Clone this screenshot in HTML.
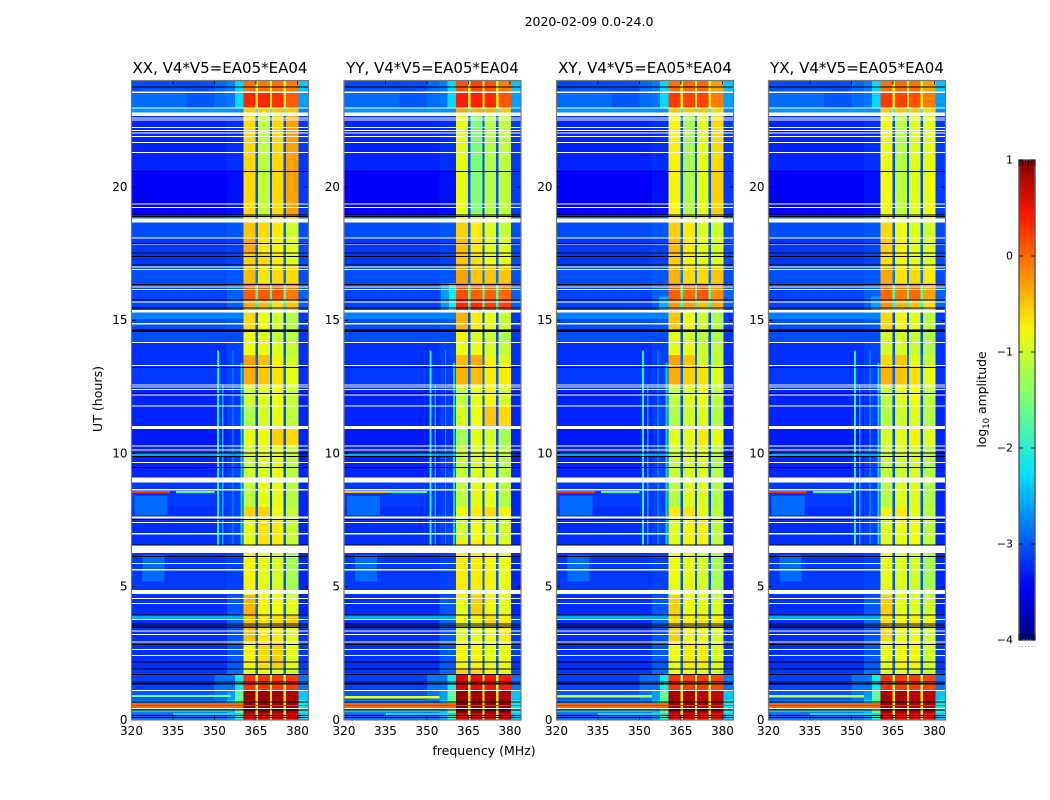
<!DOCTYPE html>
<html>
<head>
<meta charset="utf-8">
<title>2020-02-09 waterfall</title>
<style>
html,body{margin:0;padding:0;background:#fff;width:1050px;height:800px;overflow:hidden}
svg{display:block}
text{font-family:"DejaVu Sans","Liberation Sans",sans-serif;fill:#000}
</style>
</head>
<body>
<svg id="fig" width="1050" height="800" viewBox="0 0 1050 800" xmlns="http://www.w3.org/2000/svg">
<defs><linearGradient id="jetGradient" x1="0" y1="1" x2="0" y2="0"></linearGradient></defs>
<text x="589" y="26" font-size="12.5" text-anchor="middle">2020-02-09 0.0-24.0</text>
<text x="0" y="0" font-size="12.6" text-anchor="middle" transform="translate(102,399) rotate(-90)">UT (hours)</text>
<text x="484" y="755" font-size="12.5" text-anchor="middle">frequency (MHz)</text>
<text x="0" y="0" font-size="12.4" text-anchor="middle" transform="translate(986,399.5) rotate(-90)">log<tspan font-size="8.5" dy="3">10</tspan><tspan dy="-3"> amplitude</tspan></text>
</svg>
<script>
// ---- Chart data (UT hours, MHz, log10 amplitude) ----
const panelTitles = ["XX, V4*V5=EA05*EA04","YY, V4*V5=EA05*EA04","XY, V4*V5=EA05*EA04","YX, V4*V5=EA05*EA04"];
const xTickLabels = [320,335,350,365,380];
const yTickLabels = [0,5,10,15,20];
const colorbarTicks = [1,0,-1,-2,-3,-4];
const freqLimits = [320,384];
const utLimits = [0,24];
const colorLimits = [-4,1];

// Top UT of each time segment (the last entry closes the final one)
const segmentTops = [24,23.55,22.99,22.76,20.63,18.94,18.68,18.08,17.55,17.06,16.39,15.75,15.38,14.63,14.18,13.69,13.31,12.56,11.81,11.03,10.31,9.11,7.99,7.61,6.75,6.26,4.69,3.94,3.45,2.93,1.95,1.69,1.13,0.75,0.26,0];

// Off-band background, wing next to the band, strip right of the band, and the gaps between sub-bands
const backgroundLevel = [-3,-2.95,-2.65,-3.2,-3.4,-2.8,-3,-3.1,-3.1,-3,-3.05,-3.05,-3,-3.05,-3.15,-3.15,-3.1,-3.2,-3.2,-3.25,-3.2,-3.1,-3.15,-3.15,-3.15,-3.1,-3.15,-3.15,-3.15,-3.15,-3.1,-3.05,-2.95,-2.75,-2.85];
const wingLevel = [-2.75,-2.8,-2.65,-3.15,-3.3,-2.7,-2.95,-3.05,-3.05,-2.95,-2.9,-2.9,-2.95,-3.05,-3.05,-3.05,-3.05,-3.1,-3.05,-3.15,-3.05,-3.05,-3.05,-3.05,-3.05,-3.05,-2.95,-2.85,-2.95,-2.95,-2.85,-2.8,-2.6,-2.4,-2.6];
const rightStripLevel = [-2.4,-2.6,-2.7,-3.1,-3.1,-2.8,-3,-3,-3,-3,-2.9,-2.9,-3.1,-3.1,-3.15,-3.15,-3.15,-3.2,-3.2,-3.2,-3.2,-3.2,-3.2,-3.2,-3.2,-3.2,-3.2,-3,-3.1,-3.1,-3,-2.8,-2.4,-2.2,-2.4];
const gapLevel = [-1,-.7,-2,-3,-3,-2.8,-2.9,-2.9,-2.9,-2.8,-1.8,-2.1,-3,-3,-3,-2.9,-2.9,-3,-3,-3,-3,-3,-2.95,-2.95,-2.95,-2.95,-2.9,-2.9,-2.9,-2.9,-2.9,-1.3,-.7,-.7,-1.2];

// Sub-band levels per segment: [sub-band 1, 2, 3, 4]
const bandLevelsXX = [[-.05,-.1,-.05,-.1],[.35,.35,.3,.05],[-.55,-.55,-.5,-.5],[-.6,-1.1,-.6,-.3],[-.6,-1.05,-.6,-.3],[-.6,-1,-.6,-.5],[-.5,-.6,-.7,-1],[-.35,-.7,-.75,-.85],[-.55,-.6,-.7,-.9],[-.45,-.65,-.6,-.6],[.05,.05,.1,-.1],[-.35,-.45,-.6,-.5],[-.6,-.8,-1,-1.15],[-.8,-.9,-1.05,-1.15],[-.8,-.8,-.9,-1.05],[-.3,-.45,-.75,-1],[-.35,-.5,-.65,-.85],[-1,-.9,-.8,-1.05],[-1.2,-.95,-.85,-1.1],[-.85,-.8,-.55,-.6],[-1,-.9,-.85,-1.1],[-1.1,-.85,-.85,-1.15],[-.55,-.55,-.8,-1.05],[-.85,-.65,-.7,-1.05],[-.85,-.65,-.7,-1.05],[-.75,-.85,-.95,-1.25],[-.4,-.75,-.8,-.9],[-.5,-.65,-.6,-.55],[-.45,-.7,-.7,-.9],[-.75,-.6,-.55,-.9],[-.9,-.8,-.9,-1],[.3,.25,.25,.25],[.9,.85,.85,.8],[.9,.9,.85,.85],[.6,.6,.6,.55]];
const bandLevelsYY = [[.1,.2,.15,-.1],[.4,.4,.35,.1],[-.35,-.4,-.4,-.5],[-.85,-1.5,-1.15,-1.1],[-.85,-1.45,-1.15,-1.1],[-.7,-1,-.9,-.9],[-.55,-.7,-.9,-1.05],[-.45,-.7,-.85,-.9],[-.5,-.65,-.8,-.85],[-.3,-.5,-.5,-.5],[.15,.05,.05,0],[.35,.3,.2,.2],[-.4,-.7,-.85,-1.05],[-.75,-.9,-1,-1.2],[-.8,-.8,-.9,-1.05],[-.45,-.35,-.75,-.9],[-.4,-.45,-.7,-.7],[-1.1,-.85,-.75,-.95],[-.95,-.8,-.5,-.6],[-1.25,-.85,-.95,-1.25],[-1.05,-.9,-.9,-1.1],[-1.1,-.85,-.85,-1.15],[-.8,-.7,-.6,-.75],[-1,-.8,-.9,-1],[-.7,-.7,-.75,-.85],[-.7,-.7,-.75,-.85],[-.85,-.55,-.75,-.9],[-.8,-.75,-.6,-.7],[-.9,-.85,-.8,-.7],[-.75,-.75,-.85,-.85],[-.55,-.6,-.75,-.85],[.55,.5,.45,.4],[.9,.85,.85,.8],[.95,.9,.9,.9],[.65,.65,.65,.65]];
const bandLevelsXY = [[-.05,0,0,-.3],[.25,.2,.2,-.1],[-.5,-.5,-.5,-.6],[-.75,-1.25,-.85,-.6],[-.75,-1.2,-.85,-.55],[-.65,-.95,-.8,-.7],[-.55,-.7,-.9,-1],[-.45,-.7,-.85,-.9],[-.55,-.75,-.85,-.9],[-.4,-.6,-.6,-.5],[.05,0,.1,-.2],[-.25,-.3,-.45,-.35],[-.5,-.8,-1,-1.2],[-.85,-1,-1.1,-1.2],[-.85,-.85,-1,-1.1],[-.3,-.5,-1,-1.1],[-.35,-.55,-.65,-.9],[-1.1,-.9,-.8,-1.1],[-1.2,-1,-.9,-1.15],[-.9,-.85,-.7,-.85],[-1.05,-.95,-.9,-1.15],[-1.15,-.9,-.9,-1.2],[-.7,-.65,-.85,-1.1],[-.9,-.75,-.75,-1.1],[-.9,-.75,-.75,-1.1],[-.8,-.85,-.95,-1.25],[-.55,-.8,-.85,-.95],[-.6,-.7,-.65,-.7],[-.55,-.75,-.75,-.95],[-.8,-.7,-.7,-.95],[-.85,-.8,-.9,-1],[.3,.25,.25,.2],[.8,.8,.75,.7],[.85,.85,.8,.8],[.55,.55,.55,.5]];
const bandLevelsYX = [[-.05,0,-.05,-.3],[.25,.2,.15,-.1],[-.5,-.5,-.5,-.6],[-.8,-1.15,-.9,-.85],[-.8,-1.1,-.9,-.8],[-.7,-.95,-.85,-.85],[-.6,-.8,-.9,-1],[-.55,-.75,-.9,-.9],[-.65,-.75,-.9,-.9],[-.35,-.65,-.6,-.7],[0,-.1,0,-.3],[-.2,-.4,-.5,-.6],[-.6,-.75,-.9,-1.1],[-.95,-.95,-1.05,-1.2],[-.95,-.95,-1.05,-1.2],[-.6,-.5,-.9,-1.05],[-.4,-.5,-.65,-.85],[-1.1,-.9,-.8,-1.1],[-1.15,-1,-.9,-1.15],[-.95,-.9,-.75,-.9],[-1.05,-1,-.95,-1.15],[-1.15,-.9,-.9,-1.2],[-.75,-.7,-.85,-1.1],[-.9,-.8,-.8,-1.1],[-.9,-.8,-.8,-1.1],[-.85,-.9,-1,-1.25],[-.55,-.85,-.9,-1],[-.65,-.75,-.7,-.75],[-.6,-.8,-.8,-1],[-.85,-.75,-.75,-1],[-.9,-.85,-.95,-1.05],[.3,.25,.25,.2],[.8,.8,.75,.7],[.85,.85,.8,.8],[.55,.55,.55,.5]];

// Frequency edges (MHz) of the band structure
const subBandEdges = [[360.5,365],[365.5,370.1],[370.6,375.1],[375.6,380.4]];
const gapEdges = [[364.9,365.7],[370,370.8],[375,375.8]];
const wingEdges = [354.5,360.5];

// Localised features: [panel (-1 = all), UT top, UT bottom, MHz left, MHz right, level]
const features = [
 [-1,23.55,22.99,320,340,-2.85],[-1,23.55,22.99,350,354.5,-2.85],[-1,24,23.55,350,354.5,-2.85],
 [-1,24,22.99,357.5,360.5,-2.3],
 [-1,3.94,3.75,320,360.5,-2.55],[-1,10.04,9.91,320,360.5,-2.55],[-1,15.38,15.05,320,360.5,-2.75],
 [-1,14.63,14.18,320,360.5,-3],
 [-1,8.4,7.7,321,333,-2.85],[-1,6.2,5.2,324,332,-2.85],
 [-1,13.87,6.56,351,351.7,-2.15],[-1,12.56,6.56,352.8,353.3,-2.5],[-1,13.87,6.56,356.5,356.9,-2.6],[-1,13.4,6.56,359.5,360.1,-2.3],
 [1,16.39,15.3,355,358,-2.6],[1,16.39,15.3,358,360.5,-2.2],[2,15.9,15.3,357,360.5,-2.5],[3,15.9,15.3,357,360.5,-2.6],
 [0,8.6,8.52,320,334,.25],[1,8.6,8.52,320,336,-.5],[2,8.6,8.52,320,334,.25],[3,8.6,8.52,320,334,.25],
 [-1,8.6,8.52,336,350,-1.8],
 [-1,1.69,0.75,350,354.5,-2.8],
 [-1,1.69,1.13,357.5,360.5,-2.2],[-1,1.13,.75,357.5,360.5,-1.7],[-1,.75,.26,357.5,360.5,-1.6],[-1,.26,0,357.5,360.5,-2],
 [0,.94,.86,320,356,-1.6],[1,.9,.8,320,354.5,-.8],[2,.94,.84,320,354.5,-1.1],[3,.94,.84,320,354.5,-1.1],
 [-1,.64,.45,320,360.5,0],[-1,.57,.52,320,384,.35],[-1,.4,.32,320,354.5,-1.9],[-1,.26,.17,335,360.5,-2.3]
];

// Flagged (white) intervals: start UT and duration in hours
const flagStart = [23.58,22.99,22.8,22.61,22.54,22.26,22.14,22.05,21.92,21.69,21.32,19.38,19.26,18.83,18.11,17.89,17.02,16.92,16.27,16.17,15.71,15.38,14.89,14.18,13.33,12.6,12.51,12.42,12.22,11.81,11.03,10.31,10.16,9.68,9.11,8.66,7.63,7.43,7.01,6.54,5.89,5.66,4.88,4.58,4.39,3.79,3.36,3.23,2.94,2.66,2.44,1.13,.45];
const flagHours = [.04,.04,.13,.04,.04,.04,.04,.04,.04,.04,.04,.04,.04,.15,.04,.04,.04,.04,.04,.04,.04,.09,.04,.04,.04,.04,.04,.04,.04,.04,.11,.04,.04,.04,.19,.04,.06,.04,.04,.27,.04,.04,.15,.04,.04,.04,.04,.04,.04,.04,.04,.04,.04];
// Zero-amplitude (black) scans
const zeroLines = [23.78,20.61,18.98,18.92,17.91,17.54,17.41,17.09,16.36,15.79,15.48,14.65,14.61,13.25,12.27,10.04,9.91,9.5,7.54,6.59,6.16,3.96,3.63,3.55,3.49,2.86,2.2,1.94,1.73,1.44,1.38,.69,.39,.19,.12];

const jetStops = [0,.11,.35,.5,.65,.89,1];

// ---- Layout ----
const panelLefts = [131.5,344,556.5,768.5];
const panelWidth = 177;
const plotTop = 80.5, plotBottom = 720;
const cbLeft = 1019, cbWidth = 16, cbTop = 160, cbBottom = 640;
const allBandLevels = [bandLevelsXX,bandLevelsYY,bandLevelsXY,bandLevelsYX];
const panelKeys = ['xx','yy','xy','yx'];
const NS = 'http://www.w3.org/2000/svg';
const fig = document.getElementById('fig');

function xScale(p,mhz){return panelLefts[p]+(mhz-freqLimits[0])/(freqLimits[1]-freqLimits[0])*panelWidth;}
function yScale(ut){return plotBottom-(ut-utLimits[0])/(utLimits[1]-utLimits[0])*(plotBottom-plotTop);}
function cbScale(v){return cbBottom-(v-colorLimits[0])/(colorLimits[1]-colorLimits[0])*(cbBottom-cbTop);}
function ramp(x,pts){
  for(let i=1;i<pts.length;i++){
    if(x<=pts[i][0]){const a=pts[i-1],b=pts[i];return a[1]+(b[1]-a[1])*(x-a[0])/(b[0]-a[0]);}
  }
  return pts[pts.length-1][1];
}
function jetAt(t){
  t=Math.max(0,Math.min(1,t));
  const r=ramp(t,[[0,0],[.35,0],[.66,1],[.89,1],[1,.5]]);
  const g=ramp(t,[[0,0],[.125,0],[.375,1],[.64,1],[.91,0],[1,0]]);
  const b=ramp(t,[[0,.5],[.11,1],[.34,1],[.65,0],[1,0]]);
  return 'rgb('+Math.round(r*255)+','+Math.round(g*255)+','+Math.round(b*255)+')';
}
function jet(v){return jetAt((v-colorLimits[0])/(colorLimits[1]-colorLimits[0]));}
function mk(tag,parent){const el=document.createElementNS(NS,tag);parent.appendChild(el);return el;}
function box(parent,x0,x1,y0,y1,fill){
  const el=mk('rect',parent);
  el.setAttribute('x',x0);el.setAttribute('y',y0);
  el.setAttribute('width',Math.max(0,x1-x0));el.setAttribute('height',Math.max(0,y1-y0));
  el.setAttribute('fill',fill);
  el.setAttribute('shape-rendering','crispEdges');
  return el;
}
function lineEl(parent,x1,y1,x2,y2,stroke,w){
  const el=mk('line',parent);
  el.setAttribute('x1',x1);el.setAttribute('y1',y1);el.setAttribute('x2',x2);el.setAttribute('y2',y2);
  el.setAttribute('stroke',stroke);el.setAttribute('stroke-width',w);
  return el;
}
function label(parent,x,y,str,size,anchor){
  const el=mk('text',parent);
  el.setAttribute('x',x);el.setAttribute('y',y);
  el.setAttribute('font-size',size);el.setAttribute('text-anchor',anchor);
  el.textContent=str;
  return el;
}

// ---- Panels ----
panelTitles.forEach(function(title,p){
  const key=panelKeys[p];
  const g=mk('g',fig);
  
  
  const levels=allBandLevels[p];
  const L=xScale(p,freqLimits[0]), R=xScale(p,freqLimits[1]);

  for(let s=0;s<backgroundLevel.length;s++){
    const y0=yScale(segmentTops[s]), y1=yScale(segmentTops[s+1]);
    const bg=box(g,L,xScale(p,wingEdges[0]),y0,y1,jet(backgroundLevel[s]));
    
    
    const wing=box(g,xScale(p,wingEdges[0]),xScale(p,wingEdges[1]),y0,y1,jet(wingLevel[s]));
    
    
    const strip=box(g,xScale(p,subBandEdges[3][1]),R,y0,y1,jet(rightStripLevel[s]));
    
    
    for(let b=0;b<4;b++){
      const cell=box(g,xScale(p,subBandEdges[b][0]),xScale(p,subBandEdges[b][1]),y0,y1,jet(levels[s][b]));
      
      
    }
    for(let b=0;b<3;b++){
      const gap=box(g,xScale(p,gapEdges[b][0]),xScale(p,gapEdges[b][1]),y0,y1,jet(gapLevel[s]));
      
      
    }
  }

  features.forEach(function(f){
    if(f[0]!==-1&&f[0]!==p)return;
    const c=box(g,xScale(p,f[3]),xScale(p,f[4]),yScale(f[1]),yScale(f[2]),jet(f[5]));
    
    
  });

  flagStart.forEach(function(ut,i){
    const w=box(g,L,R,yScale(ut),yScale(ut-flagHours[i]),'#ffffff');
    
    
  });
  zeroLines.forEach(function(ut){
    const k=box(g,L,R,yScale(ut),yScale(ut-.04),'#000000');
    
    
  });

  // ticks
  xTickLabels.forEach(function(t){
    const x=xScale(p,t);
    const t1=lineEl(g,x,plotBottom,x,plotBottom-4,'#000',.8);
    
    
    const t2=lineEl(g,x,plotTop,x,plotTop+4,'#000',.8);
    
    
    const tl=label(g,x,plotBottom+15,String(t),12,'middle');
    
    
  });
  yTickLabels.forEach(function(t){
    const y=yScale(t);
    const t1=lineEl(g,L,y,L+4,y,'#000',.8);
    
    
    const t2=lineEl(g,R,y,R-4,y,'#000',.8);
    
    
    const tl=label(g,L-4,y+3.8,String(t),12,'end');
    
    
  });

  const frame=mk('rect',g);
  frame.setAttribute('x',L);frame.setAttribute('y',plotTop);
  frame.setAttribute('width',R-L);frame.setAttribute('height',plotBottom-plotTop);
  frame.setAttribute('fill','none');frame.setAttribute('stroke','#777');frame.setAttribute('stroke-width',1.2);
  
  

  const tt=label(g,(L+R)/2,73,title,15,'middle');
  
  
});

// ---- Colorbar ----
const grad=document.getElementById('jetGradient');
jetStops.forEach(function(t){
  const st=mk('stop',grad);
  st.setAttribute('offset',t);
  st.setAttribute('stop-color',jetAt(t));
});
const cb=mk('g',fig);


const cbRect=mk('rect',cb);
cbRect.setAttribute('x',cbLeft);cbRect.setAttribute('y',cbTop);
cbRect.setAttribute('width',cbWidth);cbRect.setAttribute('height',cbBottom-cbTop);
cbRect.setAttribute('fill','url(#jetGradient)');
cbRect.setAttribute('stroke','#555');cbRect.setAttribute('stroke-width',1.4);


colorbarTicks.forEach(function(v){
  const y=cbScale(v);
  const a=lineEl(cb,cbLeft,y,cbLeft+4,y,'#000',.8);
  
  
  const b=lineEl(cb,cbLeft+cbWidth,y,cbLeft+cbWidth-4,y,'#000',.8);
  
  
  const t=label(cb,cbLeft-6,y+3.5,(v<0?'\u2212':'')+Math.abs(v),11,'end');
  
  
});
[0,1,2,3,4,5].forEach(function(i){
  const x=cbLeft+i*cbWidth/5;
  const top=lineEl(cb,x,cbTop,x,cbTop+6,'#000',.7);
  
  
  const bot=lineEl(cb,x,cbBottom,x,cbBottom-6,'#000',.7);
  
  
  const dot=box(cb,x-.5,x+.5,cbBottom+6,cbBottom+7,'#999');
  
  
});
</script>
</body>
</html>
